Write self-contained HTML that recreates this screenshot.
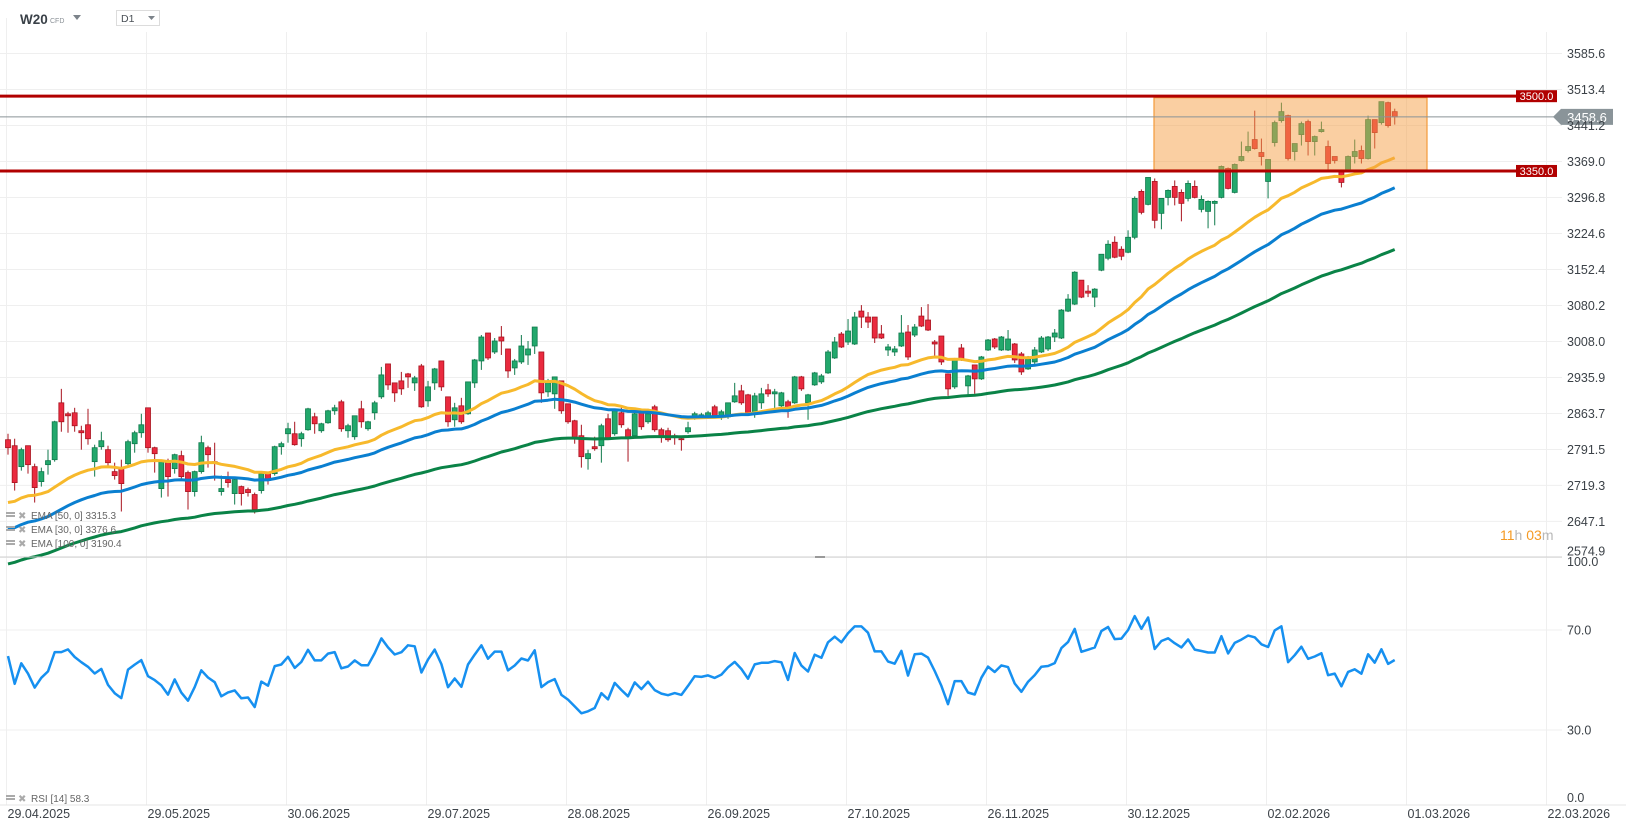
<!DOCTYPE html>
<html><head><meta charset="utf-8"><style>
html,body{margin:0;padding:0;background:#fff;}
svg{display:block;font-family:"Liberation Sans",sans-serif;}
</style></head><body>
<svg id="chart" width="1626" height="831" viewBox="0 0 1626 831" xmlns="http://www.w3.org/2000/svg">
<g id="grid"></g>
<g id="candles"></g>
<g id="emas"></g>
<g id="levels"></g>
<g id="rsi"></g>
<g id="axes"></g>
<g>
  <text x="20" y="24" font-size="13.5" font-weight="bold" fill="#3a4148">W20</text>
  <text x="50" y="23" font-size="7" fill="#8a9096">CFD</text>
  <path d="M73 15 L81 15 L77 20 Z" fill="#7c838a"/>
  <rect x="116.5" y="10.5" width="43" height="15" fill="#fff" stroke="#dcdcdc"/>
  <text x="121" y="22" font-size="10.5" fill="#4a5056">D1</text>
  <path d="M148 16 L155 16 L151.5 20 Z" fill="#7c838a"/>
</g>
<g>
  <text x="1500" y="540" font-size="14"><tspan fill="#f59a23">11</tspan><tspan fill="#b8b8b8">h </tspan><tspan fill="#f59a23">03</tspan><tspan fill="#b8b8b8">m</tspan></text>
</g>
<g font-size="10" fill="#666">
  <g><rect x="6" y="512" width="9" height="2" fill="#aaa"/><rect x="6" y="515" width="9" height="2" fill="#aaa"/><text x="18" y="519" fill="#aaa" font-size="10">✖</text><text x="31" y="519">EMA  [50,  0]  3315.3</text></g>
  <g><rect x="6" y="526" width="9" height="2" fill="#aaa"/><rect x="6" y="529" width="9" height="2" fill="#aaa"/><text x="18" y="533" fill="#aaa" font-size="10">✖</text><text x="31" y="533">EMA  [30,  0]  3376.6</text></g>
  <g><rect x="6" y="540" width="9" height="2" fill="#aaa"/><rect x="6" y="543" width="9" height="2" fill="#aaa"/><text x="18" y="547" fill="#aaa" font-size="10">✖</text><text x="31" y="547">EMA  [100,  0]  3190.4</text></g>
  <g><rect x="6" y="795" width="9" height="2" fill="#aaa"/><rect x="6" y="798" width="9" height="2" fill="#aaa"/><text x="18" y="802" fill="#aaa" font-size="10">✖</text><text x="31" y="802">RSI  [14]  58.3</text></g>
</g>
</svg>
<script>
const opens=[2811,2799,2757,2799,2757,2727,2761,2771,2885,2863,2865,2829,2841,2767,2797,2791,2747,2753,2763,2803,2825,2875,2795,2713,2765,2753,2779,2745,2707,2747,2795,2767,2707,2731,2703,2717,2711,2701,2709,2745,2743,2797,2823,2823,2813,2831,2857,2829,2845,2869,2887,2829,2817,2873,2833,2865,2897,2963,2925,2929,2943,2925,2959,2889,2925,2969,2897,2851,2879,2863,2925,2969,3025,2987,3017,2993,2955,2967,2981,2999,2987,2907,2903,2929,2883,2849,2819,2773,2797,2799,2853,2823,2865,2831,2819,2865,2847,2877,2831,2829,2819,2813,2827,2857,2859,2857,2877,2859,2857,2887,2909,2901,2865,2885,2911,2903,2879,2887,2885,2937,2885,2921,2927,2945,2975,3023,3007,3003,3069,3057,3057,3023,2991,2987,2999,3027,3021,3059,3051,3007,3019,2943,2917,2995,2919,2961,2933,2991,3013,2991,2991,3003,2983,2953,2967,2987,2993,3017,3015,3069,3083,3131,3109,3097,3151,3175,3207,3193,3187,3217,3309,3283,3329,3265,3297,3319,3307,3295,3319,3273,3269,3285,3297,3355,3307,3371,3391,3413,3387,3329,3407,3451,3461,3389,3423,3449,3409,3429,3399,3379,3351,3349,3379,3391,3375,3453,3447,3487,3469];
const closes=[2795,2725,2791,2761,2715,2747,2769,2847,2847,2859,2839,2825,2813,2795,2809,2765,2739,2723,2807,2825,2841,2795,2783,2767,2737,2781,2737,2707,2747,2805,2781,2765,2713,2725,2731,2703,2705,2671,2743,2729,2797,2803,2833,2801,2823,2873,2843,2843,2869,2875,2833,2839,2859,2847,2847,2885,2941,2921,2905,2913,2937,2935,2877,2917,2953,2917,2847,2875,2847,2927,2971,3017,2975,3009,3009,2949,2969,2999,2993,3037,2905,2925,2937,2869,2847,2813,2777,2783,2793,2839,2813,2869,2841,2815,2863,2837,2863,2831,2817,2811,2817,2811,2835,2863,2861,2865,2859,2867,2885,2899,2885,2865,2899,2903,2903,2907,2905,2875,2937,2913,2901,2945,2939,2987,3007,2997,3029,3057,3057,3047,3015,3015,2997,2993,3025,2977,3037,3039,3031,3003,2967,2913,2973,2973,2939,2933,2977,3011,2997,3017,3013,2971,2947,2973,2991,3015,3017,3025,3071,3093,3147,3097,3105,3113,3183,3203,3177,3179,3217,3295,3267,3337,3251,3295,3311,3297,3285,3325,3297,3293,3289,3289,3359,3315,3363,3379,3399,3395,3379,3373,3447,3469,3375,3405,3445,3409,3419,3433,3365,3371,3327,3379,3389,3375,3453,3427,3489,3441,3458.6];
const highs=[2823,2813,2795,2799,2763,2755,2791,2849,2913,2867,2875,2839,2873,2801,2827,2799,2765,2771,2811,2829,2863,2875,2797,2771,2773,2783,2789,2749,2749,2819,2799,2805,2739,2747,2735,2719,2715,2705,2745,2747,2799,2807,2845,2847,2827,2875,2865,2845,2871,2881,2891,2843,2859,2889,2849,2889,2957,2963,2925,2947,2945,2939,2963,2929,2955,2969,2897,2885,2895,2927,2973,3021,3025,3015,3039,2993,2973,3021,3009,3037,2987,2933,2937,2929,2883,2851,2841,2791,2817,2843,2863,2871,2877,2835,2873,2865,2873,2881,2835,2835,2823,2817,2847,2867,2865,2869,2881,2871,2885,2925,2921,2903,2905,2915,2923,2913,2907,2891,2939,2939,2903,2947,2943,2991,3017,3027,3053,3067,3081,3067,3057,3041,3003,2999,3061,3041,3043,3077,3083,3011,3019,2943,2975,3003,2941,2961,2979,3013,3015,3019,3031,3005,2987,2979,2997,3019,3019,3033,3073,3103,3149,3131,3121,3115,3183,3211,3219,3199,3231,3299,3313,3337,3335,3295,3313,3331,3313,3331,3331,3301,3291,3291,3361,3357,3365,3409,3429,3471,3415,3373,3451,3487,3463,3405,3449,3453,3421,3449,3411,3379,3353,3381,3413,3401,3461,3453,3489,3489,3475];
const lows=[2781,2709,2749,2743,2685,2717,2741,2767,2827,2825,2827,2791,2801,2737,2791,2757,2731,2667,2759,2785,2815,2785,2745,2695,2697,2743,2731,2671,2697,2743,2755,2729,2699,2715,2681,2679,2697,2663,2703,2721,2739,2781,2805,2799,2797,2829,2823,2825,2843,2861,2827,2815,2811,2835,2829,2851,2893,2911,2887,2901,2915,2909,2875,2877,2911,2909,2837,2837,2843,2861,2915,2951,2971,2983,2981,2935,2941,2963,2961,2983,2885,2897,2873,2863,2843,2803,2755,2751,2789,2765,2811,2819,2835,2767,2817,2831,2843,2827,2805,2807,2801,2789,2823,2851,2855,2853,2855,2851,2853,2885,2881,2859,2855,2873,2897,2871,2875,2855,2883,2909,2851,2919,2923,2943,2973,2995,3001,3001,3035,3035,3005,3013,2979,2979,2997,2971,3017,3037,3029,2979,2961,2899,2913,2969,2899,2903,2931,2989,2993,2989,2989,2965,2941,2951,2963,2985,2989,3007,3013,3067,3081,3095,3097,3077,3149,3171,3175,3171,3185,3213,3263,3281,3235,3233,3281,3281,3249,3289,3295,3267,3235,3241,3295,3313,3305,3369,3387,3393,3361,3295,3399,3447,3371,3371,3401,3381,3381,3427,3353,3365,3317,3349,3365,3365,3373,3395,3443,3437,3443];
const priceTicks=[3585.6,3513.4,3441.2,3369.0,3296.8,3224.6,3152.4,3080.2,3008.0,2935.9,2863.7,2791.5,2719.3,2647.1,2574.9];
const rsiTicks=[100,70,30,0];
const dateLabels=["29.04.2025","29.05.2025","30.06.2025","29.07.2025","28.08.2025","26.09.2025","27.10.2025","26.11.2025","30.12.2025","02.02.2026","01.03.2026","22.03.2026"];
const levelValues=[3500.0,3350.0];
const lastPrice=3458.6;
const zoneRange=[3497,3352];
const emaPeriods=[30,50,100];
const emaSeeds=[2685,2631,2562];
const rsiPeriod=14;
const rsiSeed=[14,9.5];

const NS="http://www.w3.org/2000/svg";
const yP=p=>53.5+(3585.6-p)*0.4986;
const xI=i=>8+6.667*i;
const yR=v=>805-v*2.5;
function mk(tag,attrs,parent){const e=document.createElementNS(NS,tag);for(const k in attrs)e.setAttribute(k,attrs[k]);parent.appendChild(e);return e;}
const grid=document.getElementById('grid'),cg=document.getElementById('candles'),eg=document.getElementById('emas'),lg=document.getElementById('levels'),rg=document.getElementById('rsi'),ag=document.getElementById('axes');

priceTicks.forEach((p,i)=>{
  const l=mk('line',{x1:0,x2:1562,y1:yP(p),y2:yP(p),stroke:'#efefef','stroke-width':1},grid);
  
  
  const t=mk('text',{x:1567,y:Math.min(yP(p),551)+4.5,'font-size':12.5,fill:'#3c4248'},ag);
  t.textContent=p.toFixed(1);
  
  
});
for(let k=0;k<12;k++){
  const x=6.5+140*k;
  const l=mk('line',{x1:x,x2:x,y1:k==0?18:32,y2:805,stroke:'#efefef','stroke-width':1},grid);
  
  
  const t=mk('text',{x:x+1,y:818,'font-size':12.5,fill:'#3c4248'},ag);
  t.textContent=dateLabels[k];
  
  
}
rsiTicks.forEach(v=>{
  if(v==70||v==30){const l=mk('line',{x1:0,x2:1562,y1:yR(v),y2:yR(v),stroke:'#efefef'},grid);
  
  }
  const yy=v==100?566:(v==0?802:yR(v)+4.5);
  const t=mk('text',{x:1567,y:yy,'font-size':12.5,fill:'#3c4248'},ag);
  t.textContent=v.toFixed(1);
  
  
});
const sep=mk('line',{x1:0,x2:1562,y1:557,y2:557,stroke:'#cfcfcf'},ag);


const hd=mk('rect',{x:815,y:556,width:10,height:2,fill:'#999'},ag);


const xa=mk('line',{x1:0,x2:1626,y1:805,y2:805,stroke:'#e4e4e4'},ag);



closes.forEach((c,i)=>{
  const o=opens[i],up=c>=o,x=xI(i);
  const g=mk('g',{},cg);
  
  
  mk('line',{x1:x,x2:x,y1:yP(highs[i]),y2:yP(lows[i]),stroke:up?'#0f7a4c':'#a8141f','stroke-width':1},g);
  const top=yP(Math.max(o,c)),bot=yP(Math.min(o,c));
  mk('rect',{x:x-2.5,y:top,width:5,height:Math.max(1,bot-top),fill:up?'#22a86c':'#ea2a3f',stroke:up?'#0f7a4c':'#a8141f','stroke-width':0.8},g);
});

const emaColors=['#f7b92c','#0a7fd0','#0a8347'];
emaPeriods.forEach((n,k)=>{
  let e=emaSeeds[k];const a=2/(n+1);const pts=[];
  closes.forEach((c,i)=>{e=i==0?e:e+a*(c-e);pts.push(xI(i).toFixed(1)+','+yP(e).toFixed(1));});
  const pl=mk('polyline',{points:pts.join(' '),fill:'none',stroke:emaColors[k],'stroke-width':3,'stroke-linejoin':'round'},eg);
  
  
});

const z=mk('rect',{x:1154,y:yP(zoneRange[0]),width:273,height:yP(zoneRange[1])-yP(zoneRange[0]),fill:'rgba(246,160,70,0.5)',stroke:'#f39a3a','stroke-width':1.2},lg);


levelValues.forEach(v=>{
  const y=yP(v);
  const l=mk('line',{x1:0,x2:1517,y1:y,y2:y,stroke:'#b10000','stroke-width':3},lg);
  
  
  const r=mk('rect',{x:1516,y:y-6,width:41,height:12,fill:'#b10000'},lg);
  
  
  const t=mk('text',{x:1536.5,y:y+4,'font-size':11,fill:'#fff','text-anchor':'middle'},lg);
  t.textContent=v.toFixed(1);
  
  
});
const ly=yP(lastPrice);
const pl=mk('line',{x1:0,x2:1556,y1:ly,y2:ly,stroke:'#8a9397','stroke-width':1},lg);


const pt=mk('path',{d:`M1553 ${ly} L1561 ${ly-8} L1613 ${ly-8} L1613 ${ly+8} L1561 ${ly+8} Z`,fill:'#8a9499'},lg);


const ptt=mk('text',{x:1587,y:ly+5,'font-size':13,fill:'#fff','text-anchor':'middle'},lg);
ptt.textContent=lastPrice.toFixed(1);



let ag2=rsiSeed[0],al=rsiSeed[1];const rp=[];
closes.forEach((c,i)=>{
  if(i>0){const d=c-closes[i-1];ag2=(ag2*(rsiPeriod-1)+Math.max(d,0))/rsiPeriod;al=(al*(rsiPeriod-1)+Math.max(-d,0))/rsiPeriod;}
  const r=100-100/(1+ag2/al);rp.push(xI(i).toFixed(1)+','+yR(r).toFixed(1));
});
const rl=mk('polyline',{points:rp.join(' '),fill:'none',stroke:'#1690f0','stroke-width':2.5,'stroke-linejoin':'round'},rg);


</script>
</body></html>
